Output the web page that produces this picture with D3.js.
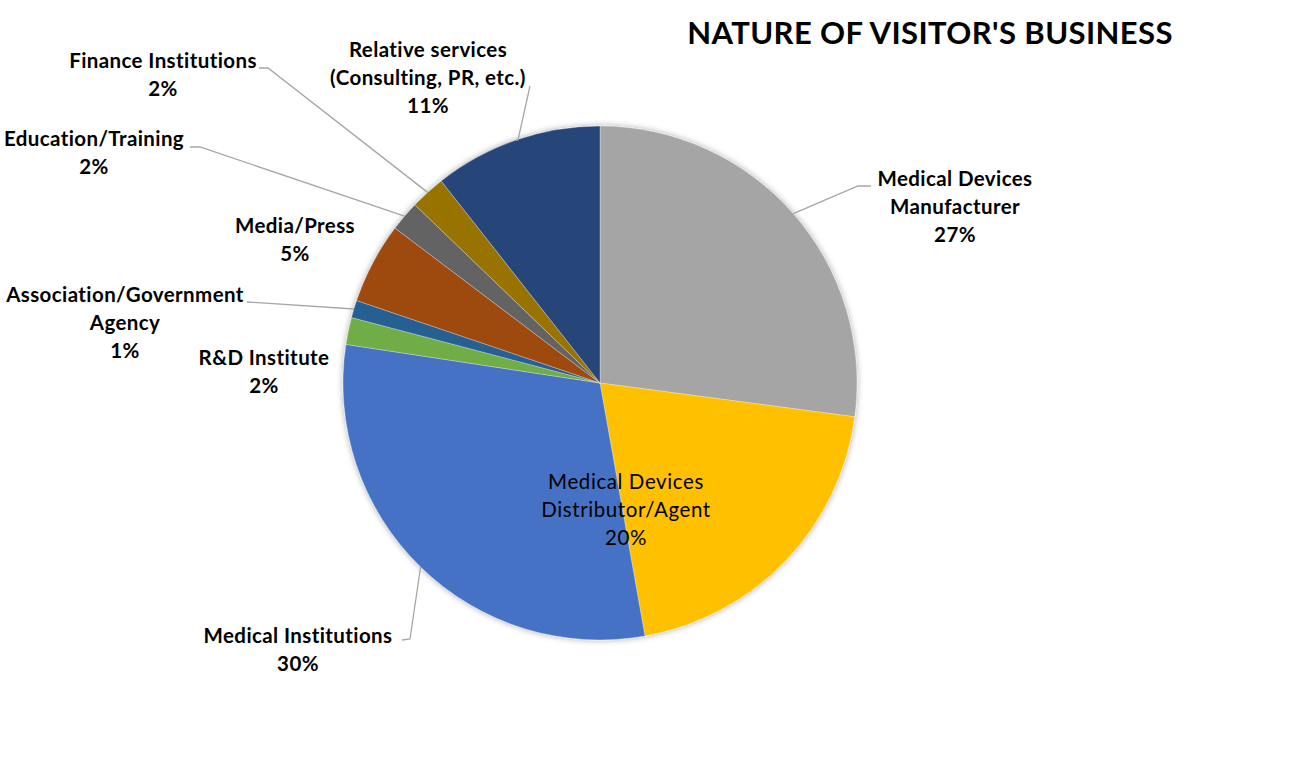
<!DOCTYPE html>
<html>
<head>
<meta charset="utf-8">
<script src="https://cdn.jsdelivr.net/npm/d3@7"></script>
<style>
  body { margin: 0; background: #fff; }
  text { font-family: Lato, "Open Sans", sans-serif; fill: #000; }
</style>
</head>
<body>
<svg id="chart" width="1296" height="768"></svg>
<script>
// data
var CATEGORIES = [
  "Medical Devices Manufacturer",
  "Medical Devices Distributor/Agent",
  "Medical Institutions",
  "R&D Institute",
  "Association/Government Agency",
  "Media/Press",
  "Education/Training",
  "Finance Institutions",
  "Relative services (Consulting, PR, etc.)"
];
var VALUES = [27.1, 20.1, 30.2, 1.7, 1.1, 5.1, 1.9, 2.2, 10.6];
var COLORS = ["#A5A5A5", "#FFC000", "#4472C4", "#70AD47", "#255E91", "#9E480E", "#636363", "#997300", "#264478"];

// label layout (line breaks, centre x, first line y, leader elbow points)
var LABELS = [
  { lines: ["Medical Devices", "Manufacturer"], x: 955, y: 179, leader: [[858, 186], [871, 186]] },
  { lines: ["Medical Devices", "Distributor/Agent"], x: 626, y: 482, inside: true },
  { lines: ["Medical Institutions"], x: 298, y: 636, leader: [[410, 639], [402, 640]] },
  { lines: ["R&D Institute"], x: 264, y: 358 },
  { lines: ["Association/Government", "Agency"], x: 125, y: 295, leader: [[247, 302]] },
  { lines: ["Media/Press"], x: 295, y: 226 },
  { lines: ["Education/Training"], x: 94, y: 139, leader: [[200, 147], [190, 147]] },
  { lines: ["Finance Institutions"], x: 163, y: 61, leader: [[268, 68], [259, 68]] },
  { lines: ["Relative services", "(Consulting, PR, etc.)"], x: 428, y: 50, leader: [[518, 140], [530, 86]] }
];

document.addEventListener("DOMContentLoaded", function() {
  drawPie();
});

function drawPie() {
  var svg = d3.select("#chart");
  var cx = 600, cy = 383, radius = 257;
  var lineH = 28;

  var defs = svg.append("defs");
  var f = defs.append("filter").attr("id", "shadow")
    .attr("x", "-10%").attr("y", "-10%").attr("width", "120%").attr("height", "120%");
  f.append("feDropShadow").attr("dx", 0).attr("dy", 0).attr("stdDeviation", 3)
    .attr("flood-color", "#000").attr("flood-opacity", 0.35);

  svg.append("text")
    .attr("x", 930).attr("y", 44)
    .attr("text-anchor", "middle")
    .style("font-size", "31px").style("font-weight", "bold")
    .style("letter-spacing", "0.4px")
    .text("NATURE OF VISITOR'S BUSINESS");

  var data = CATEGORIES.map(function(c, i) { return { name: c, value: VALUES[i], index: i }; });
  var total = d3.sum(VALUES);

  var pie = d3.pie().sort(null).value(function(d) { return d.value; });
  var arc = d3.arc().innerRadius(0).outerRadius(radius);
  var arcs = pie(data);

  var g = svg.append("g").attr("transform", "translate(" + cx + "," + cy + ")");

  g.append("g").attr("filter", "url(#shadow)")
    .selectAll("path")
    .data(arcs)
    .enter()
    .append("path")
    .attr("d", arc)
    .attr("fill", function(d) { return COLORS[d.data.index]; })
    .attr("stroke", "#fff").attr("stroke-width", 0.6).attr("stroke-opacity", 0.5);

  // leader lines
  arcs.forEach(function(d) {
    var lab = LABELS[d.data.index];
    if (!lab.leader) return;
    var mid = (d.startAngle + d.endAngle) / 2;
    var pts = [[cx + radius * Math.sin(mid), cy - radius * Math.cos(mid)]].concat(lab.leader);
    svg.append("path")
      .attr("d", d3.line()(pts))
      .attr("fill", "none")
      .attr("stroke", "#A6A6A6")
      .attr("stroke-width", 1.3);
  });

  // labels
  arcs.forEach(function(d) {
    var lab = LABELS[d.data.index];
    var pct = Math.round(d.data.value / total * 100) + "%";
    var lines = lab.lines.concat([pct]);
    var t = svg.append("text")
      .attr("text-anchor", "middle")
      .style("font-size", "20.5px")
      .style("letter-spacing", lab.inside ? "0.6px" : "0.4px")
      .style("font-weight", lab.inside ? "normal" : "bold");
    lines.forEach(function(l, j) {
      t.append("tspan")
        .attr("x", lab.x)
        .attr("y", lab.y + j * lineH)
        .attr("dy", "0.35em")
        .text(l);
    });
  });
}
</script>
</body>
</html>
